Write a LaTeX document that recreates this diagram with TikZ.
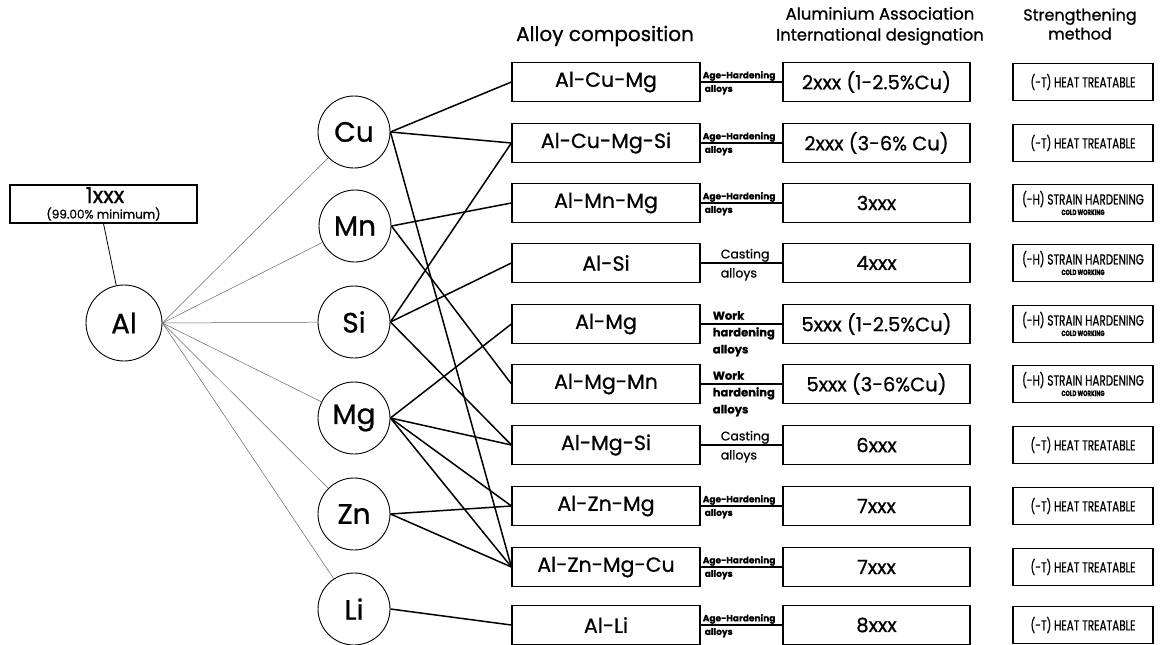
\documentclass[tikz,border=0pt]{standalone}
\usepackage{fontspec}
\setmainfont{Poppins}[FakeBold=0.8]
\newfontfamily\condfont[FakeStretch=0.72,FakeBold=0.8]{Poppins}
\begin{document}
\begin{tikzpicture}[x=1pt,y=-1pt,
  elem/.style={circle,draw,line width=0.9pt,minimum size=72pt,inner sep=0pt,font=\fontsize{28}{28}\selectfont},
  alloy/.style={draw,line width=1.2pt,minimum width=188pt,minimum height=39pt,inner sep=0pt,font=\fontsize{20.5}{20.5}\selectfont},
  desig/.style={draw,line width=1.2pt,minimum width=187pt,minimum height=39pt,inner sep=0pt,font=\fontsize{19.5}{19.5}\selectfont},
  strength/.style={draw,line width=1.1pt,minimum width=140pt,minimum height=37pt,inner sep=0pt,align=center,font=\condfont\fontsize{14.5}{14.5}\selectfont},
  conn/.style={line width=1.5pt},
  faint/.style={line width=0.5pt,black!60},
  tinylab/.style={inner sep=0pt,font=\bfseries\fontsize{9}{9}\selectfont},
  midlab/.style={inner sep=0pt,font=\fontsize{12.5}{12.5}\selectfont},
  worklab/.style={inner sep=0pt,font=\bfseries\fontsize{11.5}{17}\selectfont,align=left},
  head/.style={inner sep=0pt,align=center}
]
\useasboundingbox (0,0) rectangle (1162,645);

% headers
\node[head,font=\fontsize{20}{20}\selectfont] (h1) at (605,36) {Alloy composition};
\node[head,font=\fontsize{16.5}{21}\selectfont] (h2) at (880,26) {Aluminium Association\\International designation};
\node[head,font=\fontsize{16}{19}\selectfont] (h3) at (1080,24) {Strengthening\\method};

% pure Al
\node[draw,line width=1.2pt,minimum width=187pt,minimum height=38pt,inner sep=0pt] (p1) at (103.5,204) {};
\node[inner sep=0pt,font=\fontsize{22}{22}\selectfont,anchor=base] (p1a) at (105,203) {1xxx};
\node[inner sep=0pt,font=\fontsize{12}{12}\selectfont,anchor=base] (p1b) at (103.5,218.5) {(99.00\% minimum)};
\node[elem,minimum size=76pt] (Al) at (124,323) {Al};

% elements
\node[elem] (Cu) at (354,132) {Cu};
\node[elem] (Mn) at (355,226) {Mn};
\node[elem] (Si) at (354,322) {Si};
\node[elem] (Mg) at (354,418) {Mg};
\node[elem] (Zn) at (354,514) {Zn};
\node[elem] (Li) at (354,609) {Li};

% alloys
\node[alloy] (a1) at (606,82) {Al-Cu-Mg};
\node[alloy] (a2) at (606,143) {Al-Cu-Mg-Si};
\node[alloy] (a3) at (606,203) {Al-Mn-Mg};
\node[alloy] (a4) at (606,263) {Al-Si};
\node[alloy] (a5) at (606,324) {Al-Mg};
\node[alloy] (a6) at (606,384) {Al-Mg-Mn};
\node[alloy] (a7) at (606,445) {Al-Mg-Si};
\node[alloy] (a8) at (606,506) {Al-Zn-Mg};
\node[alloy] (a9) at (606,567) {Al-Zn-Mg-Cu};
\node[alloy] (a10) at (606,625) {Al-Li};

% designations
\node[desig] (d1) at (876.5,82) {2xxx (1-2.5\%Cu)};
\node[desig] (d2) at (876.5,143) {2xxx (3-6\% Cu)};
\node[desig] (d3) at (876.5,203) {3xxx};
\node[desig] (d4) at (876.5,263) {4xxx};
\node[desig] (d5) at (876.5,324) {5xxx (1-2.5\%Cu)};
\node[desig] (d6) at (876.5,384) {5xxx (3-6\%Cu)};
\node[desig] (d7) at (876.5,445) {6xxx};
\node[desig] (d8) at (876.5,506) {7xxx};
\node[desig] (d9) at (876.5,567) {7xxx};
\node[desig] (d10) at (876.5,625) {8xxx};

% strengthening
\node[strength] (s1) at (1083,82) {(-T) HEAT TREATABLE};
\node[strength] (s2) at (1083,143) {(-T) HEAT TREATABLE};
\node[strength] (s3) at (1083,203) {(-H) STRAIN HARDENING\\[-4pt]{\bfseries\fontsize{7.5}{7.5}\selectfont COLD WORKING}};
\node[strength] (s4) at (1083,263) {(-H) STRAIN HARDENING\\[-4pt]{\bfseries\fontsize{7.5}{7.5}\selectfont COLD WORKING}};
\node[strength] (s5) at (1083,324) {(-H) STRAIN HARDENING\\[-4pt]{\bfseries\fontsize{7.5}{7.5}\selectfont COLD WORKING}};
\node[strength] (s6) at (1083,384) {(-H) STRAIN HARDENING\\[-4pt]{\bfseries\fontsize{7.5}{7.5}\selectfont COLD WORKING}};
\node[strength] (s7) at (1083,445) {(-T) HEAT TREATABLE};
\node[strength] (s8) at (1083,506) {(-T) HEAT TREATABLE};
\node[strength] (s9) at (1083,567) {(-T) HEAT TREATABLE};
\node[strength] (s10) at (1083,625) {(-T) HEAT TREATABLE};

% alloy -> designation lines
\foreach \i in {1,...,10} { \draw[line width=1.2pt] (a\i.east) -- (d\i.west); }

% labels on those lines
\foreach \i in {1,2,3,8,9,10} {
  \node[tinylab,anchor=south west] (ta\i) at ([xshift=2pt,yshift=1pt]a\i.east) {Age-Hardening};
  \node[tinylab,anchor=north west] (tb\i) at ([xshift=4pt,yshift=-3pt]a\i.east) {alloys};
}
\foreach \i in {4,7} {
  \node[midlab,anchor=south west] (ta\i) at ([xshift=20pt,yshift=1pt]a\i.east) {Casting};
  \node[midlab,anchor=north west] (tb\i) at ([xshift=20pt,yshift=-5pt]a\i.east) {alloys};
}
\foreach \i in {5,6} {
  \node[worklab,anchor=south west] (ta\i) at ([xshift=12pt,yshift=4pt]a\i.east) {Work};
  \node[worklab,anchor=north west] (tb\i) at ([xshift=12pt,yshift=-3pt]a\i.east) {hardening\\alloys};
}

% Al -> elements
\foreach \e in {Cu,Mn,Si,Mg,Zn,Li} { \draw[faint] (Al.east) -- (\e); }
\draw[line width=0.8pt] (p1.south) -- (Al);

% element -> alloy connections
\draw[conn] (Cu.east) -- (a1.west);
\draw[conn] (Cu.east) -- (a2.west);
\draw[conn] (Cu.east) -- (a9.west);
\draw[conn] (Mn.east) -- (a3.west);
\draw[conn] (Mn.east) -- (a6.west);
\draw[conn] (Si.east) -- (a2.west);
\draw[conn] (Si.east) -- (a4.west);
\draw[conn] (Si.east) -- (a7.west);
\draw[conn] (Mg.east) -- (a5.west);
\draw[conn] (Mg.east) -- (a7.west);
\draw[conn] (Mg.east) -- (a8.west);
\draw[conn] (Mg.east) -- (a9.west);
\draw[conn] (Zn.east) -- (a8.west);
\draw[conn] (Zn.east) -- (a9.west);
\draw[conn] (Li.east) -- (a10.west);
\end{tikzpicture}
\end{document}
